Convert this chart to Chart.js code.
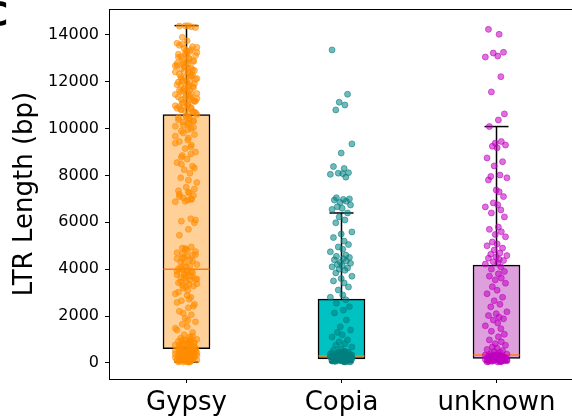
<!DOCTYPE html>
<html>
<head>
<meta charset="utf-8">
<script src="https://cdn.jsdelivr.net/npm/chart.js@4"></script>
<style>
  html, body { margin: 0; padding: 0; background: #fff; overflow: hidden; }
  #wrap { width: 572px; height: 419px; }
</style>
</head>
<body>
<div id="wrap"><canvas id="myChart"></canvas></div>
<script>
// DATOS
const categories = ["Gypsy", "Copia", "unknown"];
const q1 = [600, 170, 190];
const medians = [4000, 290, 340];
const q3 = [10600, 2720, 4170];
const whiskerLow = [30, 40, 40];
const whiskerHigh = [14400, 6400, 10090];
const yTicks = [0, 2000, 4000, 6000, 8000, 10000, 12000, 14000];

const gypsyValues = [
  14400, 14380, 14350, 14390, 14320, 13900, 13750, 13650, 13500, 13420, 13300, 13070,
  13250, 13150, 13050, 12980, 12900, 12820, 12750, 12680, 12600, 12550, 12480, 12400,
  12330, 12250, 12180, 12100, 12020, 11950, 11880, 11800, 11720, 11650, 11580, 11500,
  11420, 11350, 11270, 11200, 11120, 11050, 10980, 10900, 10800, 10700, 10640,
  13560, 13380, 13200, 13120, 12940, 12860, 12700, 12520, 12440, 12360, 12210, 12140,
  12060, 11990, 11840, 11760, 11610, 11540, 11460, 11310, 11240, 11160, 11010, 10940,
  10860, 10760, 10680, 13610, 13280, 12790, 12290, 11690, 11390, 10830,
  13470, 13330, 13180, 13010, 12870, 12730, 12580, 12420, 12270, 12120, 11920, 11780,
  11630, 11480, 11330, 11180, 11080, 10960, 10870, 10730, 12650, 12010, 11860, 11290,
  10550, 10480, 10420, 10350, 10280, 10200, 10100, 10000, 9900, 9750, 9600, 9450,
  9300, 9150, 9000, 8850, 8700, 8550, 8400, 8250, 8100, 7900, 7700, 7500, 7350, 7250,
  7150, 7050, 6950, 6880, 6150, 6050, 5980, 5700, 5450, 4950, 4850, 4750, 4650, 4550,
  4450, 4350, 4250, 4150, 4050,
  10600, 10520, 10380, 10240, 10050, 9820, 9520, 9380, 8920, 8480, 7420, 7300, 7100,
  7000, 6900, 6100, 4900, 4800, 4700, 4600, 4500, 4400, 4300, 4200, 4100, 4020,
  10450, 10310, 10150, 9950, 9680, 9220, 8780, 8320, 7800, 7200, 6980, 4880, 4620, 4480,
  3950, 3900, 3850, 3800, 3720, 3650, 3580, 3500, 3420, 3350, 3280, 3200, 3100, 2950,
  2800, 2650, 2500, 2350, 2200, 2050, 1900, 1750, 1650, 1550, 1400, 1300, 1200, 1100,
  1050, 1000, 960, 920, 880, 850, 820, 790, 760, 740, 720, 700, 680, 660, 640, 620, 610,
  3980, 3870, 3760, 3690, 3610, 3540, 3460, 3380, 3240, 3020, 2720, 2420, 2120, 1820,
  1480, 1020, 940, 870, 810, 750, 3920, 3740, 3560, 3310, 2880, 2580, 1150, 980, 900,
  580, 120, 450, 40, 300, 530, 210, 90, 380, 560, 160, 260, 30, 480, 340, 70, 600, 190,
  410, 140, 250, 510, 60, 330, 430, 100, 280, 540, 180, 360, 50, 230, 460, 130, 310, 570,
  80, 400, 220, 500, 150, 290, 110, 350, 240, 45, 170, 320, 470, 590, 200, 390, 35, 270,
  520, 75, 420, 260, 155, 365, 95, 495
];

const copiaValues = [
  13360, 11470, 11130, 11010, 10800, 9350, 8960, 8380, 8300, 8120, 8100, 8080, 8050,
  7930, 7050, 7000, 6980, 6950, 6900, 6850, 6740, 6670, 6600, 6550,
  6400, 6230, 6100, 5980, 5590, 5500, 5350, 5200, 5050, 4950, 4850, 4740, 4600, 4550,
  4500, 4450, 4400, 4350, 4300, 4250, 4200, 4150, 4100, 4050, 4000, 3950, 3840, 3700,
  3600, 3500, 3410, 3240, 3110, 2900, 2800,
  2690, 2550, 2400, 2250, 2130, 1830, 1540, 1400, 1300, 1200, 1100, 980, 900, 820, 750,
  680, 600, 550, 500, 450, 430, 410, 390, 370, 350, 330, 310, 300, 320, 340, 360, 380,
  400, 420, 440, 460, 480, 315, 335, 355,
  210, 60, 280, 140, 95, 250, 40, 175, 230, 120, 70, 265, 190, 50, 150, 240, 85, 200,
  130, 285, 65, 180, 110, 260, 45, 220, 160, 75, 270, 100, 195, 55, 245, 135, 290, 90,
  170, 215, 125, 80, 255, 145, 185, 105, 235, 165, 275, 115, 205, 155
];

const unknownValues = [
  14240, 14030, 13260, 13230, 13100, 13060, 12220, 11570, 10630, 10370,
  10090, 9450, 9380, 9300, 9250, 9180, 8750, 8590, 8410, 8020, 7960, 7900, 7380, 7810,
  7310, 7100, 6830, 6750, 6660, 6530, 6400, 6230, 5800, 5700, 5600, 5480, 5380, 5160,
  5080, 5000, 4900, 4820, 4690, 4640, 4580, 4520, 4470, 4420, 4370, 4320, 4270, 4220,
  4100, 4000, 3900, 3800, 3700, 3620, 3540, 3400, 3250, 3100, 2950, 2800, 2650, 2500,
  2390, 2180, 2100, 2020, 1950, 1880, 1830, 1700, 1580, 1460, 1350, 1220, 1110, 980,
  900, 820, 750, 680, 620, 570, 520, 480, 440, 400, 370, 350,
  300, 70, 250, 180, 40, 330, 120, 220, 90, 290, 150, 60, 270, 200, 110, 320, 45, 240,
  170, 80, 310, 130, 260, 55, 210, 190, 100, 280, 140, 50, 230, 160, 340, 75, 300, 125,
  205, 65, 255, 185, 95, 325, 145, 235, 85, 275, 115, 195, 265, 155
];

// ESTILO
const jitter = [0.012, -0.046, 0.031, -0.008, 0.058, -0.027, 0.004, -0.061, 0.039, -0.015,
  0.022, -0.037, 0.067, -0.002, -0.052, 0.017, 0.045, -0.021, 0.008, -0.072, 0.028, -0.033, 0.051];
const boxColors = ["#ffd199", "#00c2c2", "#dda0dd"];
const pointColors = ["rgba(255,140,0,0.55)", "rgba(0,128,128,0.55)", "rgba(191,0,191,0.55)"];
const allValues = [gypsyValues, copiaValues, unknownValues];

//FUNCIONES
function puntos(valores, cat) {
  return valores.map((v, i) => ({ x: cat + 1 + jitter[(i + cat * 7) % jitter.length], y: v }));
}

function bigotes() {
  const out = [];
  categories.forEach((c, i) => {
    out.push({ x: i + 1, y: whiskerLow[i] }, { x: i + 1, y: q1[i] }, { x: i + 1, y: null });
    out.push({ x: i + 1, y: q3[i] }, { x: i + 1, y: whiskerHigh[i] }, { x: i + 1, y: null });
  });
  return out;
}

const marco = {
  id: "marco",
  afterDraw(chart) {
    const ctx = chart.ctx;
    const a = chart.chartArea;
    ctx.save();
    ctx.strokeStyle = "#000";
    ctx.lineWidth = 1;
    ctx.beginPath();
    ctx.moveTo(a.left, a.top + 0.5);
    ctx.lineTo(a.right, a.top + 0.5);
    ctx.stroke();
    ctx.fillStyle = "#000";
    ctx.font = "bold 33px 'DejaVu Sans'";
    ctx.textBaseline = "alphabetic";
    ctx.fillText("C", -16, 26);
    ctx.restore();
  },
};

const datasets = [];
allValues.forEach((vals, i) => {
  datasets.push({
    type: "scatter",
    data: puntos(vals, i),
    backgroundColor: pointColors[i],
    borderColor: pointColors[i],
    pointBackgroundColor: pointColors[i],
    pointBorderColor: pointColors[i],
    pointRadius: 3,
    pointBorderWidth: 1,
    order: 0,
  });
});
datasets.push({
  type: "scatter",
  data: whiskerLow.map((v, i) => ({ x: i + 1, y: v })).concat(whiskerHigh.map((v, i) => ({ x: i + 1, y: v }))),
  pointStyle: "line",
  pointRadius: 12,
  pointBorderColor: "#000",
  pointBorderWidth: 1.5,
  order: 3,
});
datasets.push({
  type: "scatter",
  data: bigotes(),
  showLine: true,
  spanGaps: false,
  borderColor: "#000",
  borderWidth: 1.5,
  pointRadius: 0,
  order: 3,
});
datasets.push({
  type: "scatter",
  data: medians.map((v, i) => ({ x: i + 1, y: v })),
  pointStyle: "line",
  pointRadius: 23,
  pointBorderColor: "#ff7f0e",
  pointBorderWidth: 1.5,
  order: 4,
});
datasets.push({
  type: "bar",
  data: categories.map((c, i) => ({ x: i + 1, y: [q1[i], q3[i]] })),
  backgroundColor: boxColors,
  borderColor: "#000",
  borderWidth: 1.5,
  borderSkipped: false,
  barThickness: 47,
  order: 5,
});

Chart.defaults.font.family = "'DejaVu Sans'";
Chart.defaults.color = "#000";

const config = {
  type: "scatter",
  data: { datasets: datasets },
  plugins: [marco],
  options: {
    responsive: true,
    maintainAspectRatio: false,
    animation: false,
    events: [],
    layout: { autoPadding: false, padding: { left: 0, top: 9, right: 0, bottom: 0 } },
    plugins: { legend: { display: false }, tooltip: { enabled: false } },
    scales: {
      x: {
        type: "linear",
        min: 0.5,
        max: 3.487,
        offset: false,
        afterBuildTicks: (s) => { s.ticks = categories.map((c, i) => ({ value: i + 1 })); },
        afterFit: (s) => { s.height = 40; s.paddingLeft = 0; s.paddingRight = 0; },
        ticks: {
          callback: (v, i) => categories[i],
          font: { size: 26 },
          color: "#000",
          padding: 5,
          maxRotation: 0,
          autoSkip: false,
        },
        grid: { display: true, offset: false, drawOnChartArea: false, drawTicks: true, tickLength: 4, color: "#000", lineWidth: 1 },
        border: { display: true, color: "#000", width: 1 },
      },
      y: {
        type: "linear",
        min: -690,
        max: 15110,
        afterBuildTicks: (s) => { s.ticks = yTicks.map((v) => ({ value: v })); },
        afterFit: (s) => { s.width = 109; s.paddingTop = 0; s.paddingBottom = 0; },
        ticks: { callback: (v) => String(v), font: { size: 16 }, color: "#000", padding: 6 },
        grid: { display: true, offset: false, drawOnChartArea: false, drawTicks: true, tickLength: 4, color: "#000", lineWidth: 1 },
        border: { display: true, color: "#000", width: 1 },
        title: {
          display: true,
          text: "LTR Length (bp)",
          font: { size: 26 },
          color: "#000",
          padding: { top: 10, bottom: 0 },
        },
      },
    },
  },
};

const myChart = new Chart(document.getElementById("myChart"), config);
</script>
</body>
</html>
